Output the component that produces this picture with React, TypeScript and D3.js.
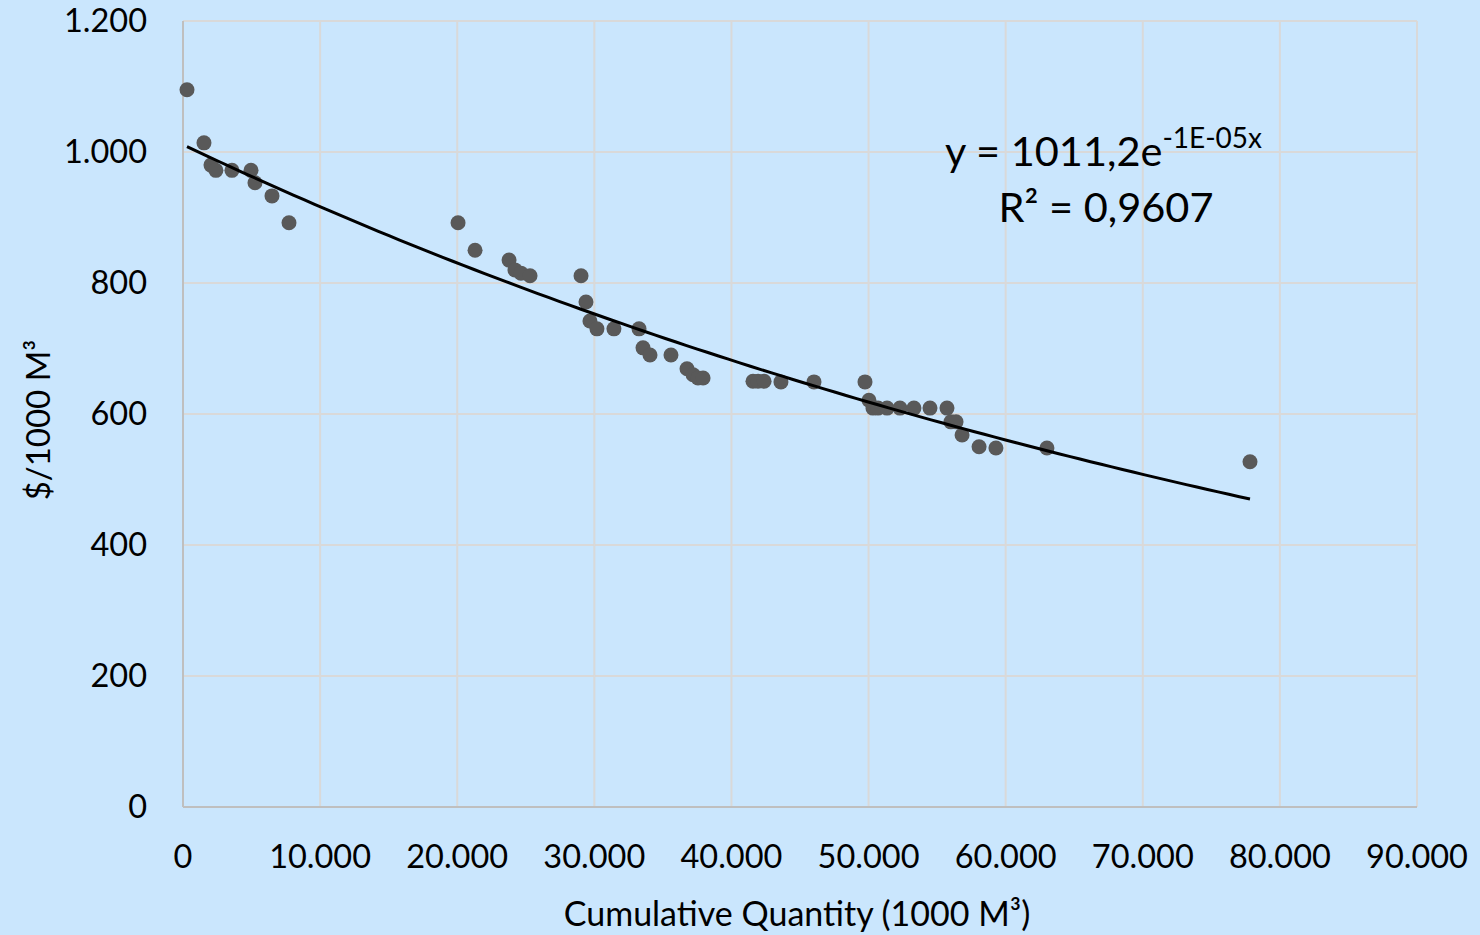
import React from "react";
import * as d3 from "d3";

const xValues = [292, 1530, 2040, 2400, 3570, 4960, 5250, 6490, 7730, 20060, 21300, 23780, 24210, 24650, 25310, 29030, 29390, 29680, 30190, 31430, 33260, 33550, 34060, 35590, 36760, 37200, 37560, 37930, 41570, 41940, 42380, 43610, 46020, 49740, 50030, 50320, 50690, 51350, 52290, 53310, 54480, 55720, 56010, 56380, 56820, 58060, 59290, 63010, 77820];
const yValues = [1095, 1014, 980, 972, 972, 972, 953, 933, 892, 892, 850, 835, 820, 815, 811, 811, 771, 742, 730, 730, 730, 701, 690, 690, 669, 660, 655, 655, 650, 650, 650, 649, 649, 649, 621, 609, 609, 609, 609, 609, 609, 609, 588, 588, 568, 550, 548, 548, 527];
const xTicks = [0, 10000, 20000, 30000, 40000, 50000, 60000, 70000, 80000, 90000];
const yTicks = [0, 200, 400, 600, 800, 1000, 1200];
const trendA = 1011.2;
const trendB = -9.84e-6;

const W = 1480, H = 935;
const FONT = "Lato, 'Open Sans', sans-serif";

const fmt = (v: number) => (v === 0 ? "0" : d3.format(",")(v).replace(/,/g, "."));

export default function App() {
  const x = d3.scaleLinear().domain([0, 90000]).range([183, 1417]);
  const y = d3.scaleLinear().domain([0, 1200]).range([807, 21]);
  const data = xValues.map((v, i) => ({ x: v, y: yValues[i] }));
  const xMin = d3.min(xValues)!, xMax = d3.max(xValues)!;
  const trend = d3.range(0, 101).map((i) => {
    const xv = xMin + ((xMax - xMin) * i) / 100;
    return { x: xv, y: trendA * Math.exp(trendB * xv) };
  });
  const line = d3.line<{ x: number; y: number }>().x((d) => x(d.x)).y((d) => y(d.y));

  return (
    <svg width={W} height={H} style={{ position: "absolute", left: 0, top: 0 }} fontFamily={FONT}>
      <rect x={0} y={0} width={W} height={H} fill="#CAE6FD" />
      {yTicks.filter((t) => t > 0).map((t) => (
        <line key={"gy" + t} x1={x(0)} x2={x(90000)} y1={y(t)} y2={y(t)} stroke="#D9D9D9" strokeWidth={2} />
      ))}
      {xTicks.filter((t) => t > 0).map((t) => (
        <line key={"gx" + t} x1={x(t)} x2={x(t)} y1={y(0)} y2={y(1200)} stroke="#D9D9D9" strokeWidth={2} />
      ))}
      <line x1={x(0)} x2={x(0)} y1={y(0)} y2={y(1200)} stroke="#BFBFBF" strokeWidth={2} />
      <line x1={x(0)} x2={x(90000)} y1={y(0)} y2={y(0)} stroke="#BFBFBF" strokeWidth={2} />
      {yTicks.map((t) => (
        <text key={"ty" + t} x={147} y={y(t)} dy="0.35em" textAnchor="end" fontSize={32.5} fill="#000">
          {fmt(t)}
        </text>
      ))}
      {xTicks.map((t) => (
        <text key={"tx" + t} x={x(t)} y={868} textAnchor="middle" fontSize={32.5} fill="#000">
          {fmt(t)}
        </text>
      ))}
      <text x={797} y={926} textAnchor="middle" fontSize={34} fill="#000">
        Cumulative Quantity (1000 M³)
      </text>
      <text transform="translate(50,420) rotate(-90)" textAnchor="middle" fontSize={33} fill="#000">
        $/1000 M³
      </text>
      {data.map((d, i) => (
        <circle key={i} cx={x(d.x)} cy={y(d.y)} r={7.5} fill="#595959" />
      ))}
      <path d={line(trend) || ""} fill="none" stroke="#000" strokeWidth={3} />
      <text x={945} y={166} fontSize={41.5} fill="#000">
        y = 1011,2e<tspan dy={-18} fontSize={28}>-1E-05x</tspan>
      </text>
      <text x={1106} y={222} textAnchor="middle" fontSize={41.5} fill="#000">
        R² = 0,9607
      </text>
    </svg>
  );
}
